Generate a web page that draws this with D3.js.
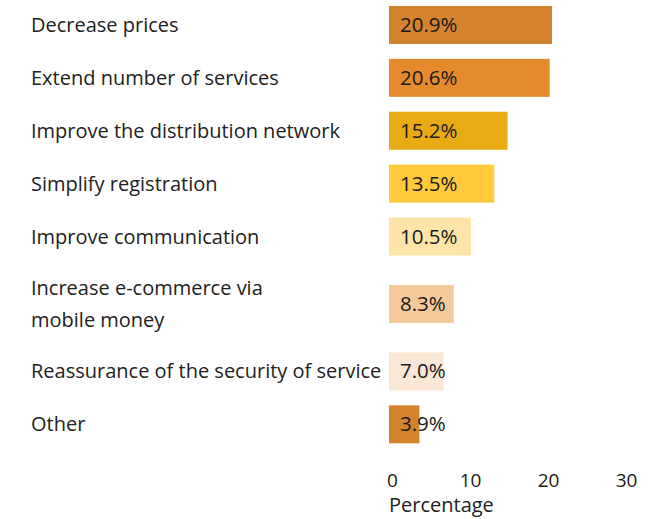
<!DOCTYPE html>
<html>
<head>
<meta charset="utf-8">
<script src="https://cdn.jsdelivr.net/npm/d3@7"></script>
<style>
  html, body { margin: 0; padding: 0; background: #fff; }
  svg { display: block; }
  text { font-family: "Open Sans", "Noto Sans", sans-serif; }
</style>
</head>
<body>
<svg id="chart" width="669" height="519"></svg>
<script>
// Responses: how the service could be improved (share of respondents, %)
const categories = [
  ["Decrease prices"],
  ["Extend number of services"],
  ["Improve the distribution network"],
  ["Simplify registration"],
  ["Improve communication"],
  ["Increase e-commerce via", "mobile money"],
  ["Reassurance of the security of service"],
  ["Other"]
];
const values = [20.9, 20.6, 15.2, 13.5, 10.5, 8.3, 7.0, 3.9];
const barColors = ["#d3832d", "#e58b2e", "#e8ab14", "#fec93b", "#ffe4a8", "#f3c89b", "#fbe7d5", "#d3832d"];
const xTicks = [0, 10, 20, 30];
const axisTitle = "Percentage";

const svg = d3.select("#chart");

const x = d3.scaleLinear().domain([0, 30]).range([389, 623]);

// Rows with two-line labels take more vertical room
const rowUnits = categories.map(c => c.length > 1 ? 1.55 : 1);
const cum = d3.cumsum([0, ...rowUnits]);
const totalUnits = cum[cum.length - 1];
const y = d3.scaleLinear().domain([0, totalUnits]).range([-1.5, -1.5 + 52.9 * totalUnits]);
const barH = 38;
const rowCenter = i => y(cum[i] + rowUnits[i] / 2);

const rows = svg.append("g").selectAll("g")
  .data(values)
  .join("g");

rows.append("rect")
  .attr("x", x(0))
  .attr("y", (d, i) => rowCenter(i) - barH / 2)
  .attr("width", d => x(d) - x(0))
  .attr("height", barH)
  .attr("fill", (d, i) => barColors[i]);

rows.append("text")
  .attr("x", x(0) + 11)
  .attr("y", (d, i) => rowCenter(i) + 7)
  .attr("font-size", 20.5)
  .attr("fill", "#1a1a1a")
  .text(d => d.toFixed(1) + "%");

// Category labels, left side
rows.append("text")
  .attr("x", 31)
  .attr("font-size", 20)
  .attr("fill", "#222")
  .each(function (d, i) {
    const lines = categories[i];
    const lh = 32;
    const first = rowCenter(i) + 7 - (lines.length - 1) * lh / 2;
    d3.select(this).selectAll("tspan")
      .data(lines)
      .join("tspan")
      .attr("x", 31)
      .attr("y", (l, j) => first + j * lh)
      .text(l => l);
  });

// Bottom axis: tick labels only
const axis = d3.axisBottom(x).tickValues(xTicks).tickSize(0).tickPadding(0);
const gx = svg.append("g").attr("transform", "translate(3,470)").call(axis);
gx.select(".domain").remove();
gx.selectAll("text")
  .attr("font-size", 19)
  .attr("fill", "#1a1a1a")
  .attr("font-family", "'Open Sans', 'Noto Sans', sans-serif")
  .attr("dy", "0.9em");

svg.append("text")
  .attr("x", 389)
  .attr("y", 512)
  .attr("font-size", 20)
  .attr("fill", "#222")
  .text(axisTitle);
</script>
</body>
</html>
